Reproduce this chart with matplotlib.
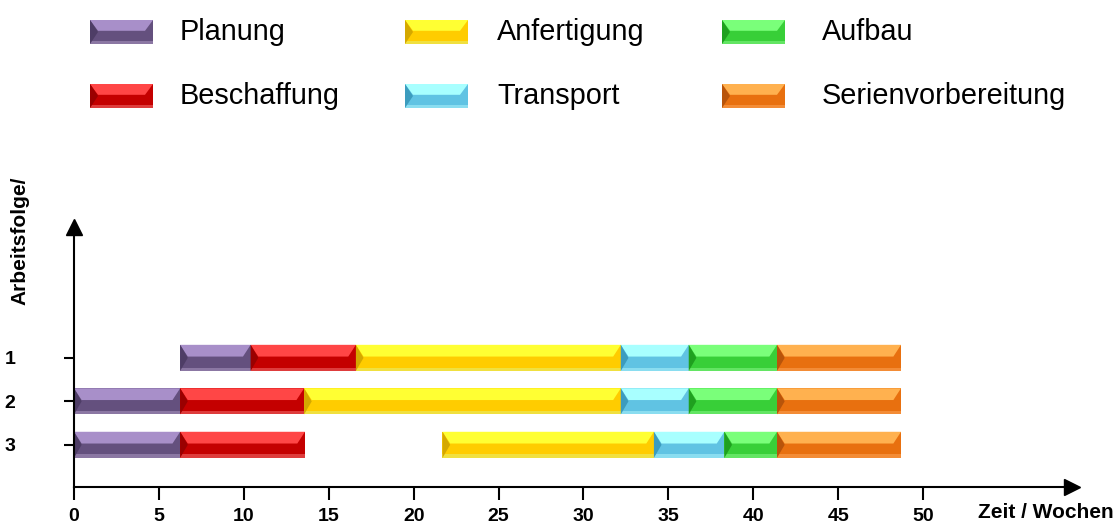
import numpy as np
import matplotlib
matplotlib.use("Agg")
import matplotlib.pyplot as plt
from matplotlib.patches import Polygon

plt.rcParams['font.family'] = ['Liberation Sans', 'DejaVu Sans']

# data
rows = [1, 2, 3]
row_labels = ['1', '2', '3']
phases = ['Planung', 'Beschaffung', 'Anfertigung', 'Transport', 'Aufbau', 'Serienvorbereitung']

# start / end (Wochen) per phase, one value per row 1..3
planung_start = [6.25, 0.0, 0.0]
planung_end = [10.4, 6.25, 6.25]
beschaffung_start = [10.4, 6.25, 6.25]
beschaffung_end = [16.6, 13.55, 13.6]
anfertigung_start = [16.6, 13.55, 21.7]
anfertigung_end = [32.2, 32.2, 34.15]
transport_start = [32.2, 32.2, 34.15]
transport_end = [36.2, 36.2, 38.3]
aufbau_start = [36.2, 36.2, 38.3]
aufbau_end = [41.4, 41.4, 41.4]
serien_start = [41.4, 41.4, 41.4]
serien_end = [48.7, 48.7, 48.7]

starts = [planung_start, beschaffung_start, anfertigung_start,
          transport_start, aufbau_start, serien_start]
ends = [planung_end, beschaffung_end, anfertigung_end,
        transport_end, aufbau_end, serien_end]

xticks = [0, 5, 10, 15, 20, 25, 30, 35, 40, 45, 50]

# light top, main, bottom strip, dark notch
colors = [
    ('#A88FC9', '#64507E', '#8B77A3', '#4E3D66'),
    ('#FF4646', '#C40000', '#DE3C3C', '#9A0000'),
    ('#FFFF33', '#FFCC00', '#F0E040', '#D4A800'),
    ('#A8FFFF', '#60C3E3', '#8ADDF0', '#3C9CBE'),
    ('#7AFF7A', '#38CF38', '#63E563', '#1FA01F'),
    ('#FFB14F', '#E8700F', '#F38C36', '#B8540A'),
]


def bevel(artist_add, x0, x1, t, b, col, d, transform):
    """beveled box, t = visual top value, b = visual bottom value"""
    light, main, bot, dark = col
    y = lambda f: t + (b - t) * f
    parts = [
        ([(x0, t), (x1, t), (x1, b), (x0, b)], main),
        ([(x0, t), (x1, t), (x1 - d, y(0.45)), (x0 + d, y(0.45))], light),
        ([(x0, y(0.87)), (x1, y(0.87)), (x1, b), (x0, b)], bot),
        ([(x0, t), (x0 + d, y(0.5)), (x0, b)], dark),
    ]
    for pts, c in parts:
        artist_add(Polygon(pts, closed=True, facecolor=c, edgecolor='none',
                           transform=transform))


fig = plt.figure(figsize=(11.19, 5.23), dpi=100)
ax = fig.add_axes([74 / 1119, 1 - 487 / 523, 998 / 1119, 260 / 523])

h = 0.6
for i, ph in enumerate(phases):
    # base bars via barh, bevel layers on top
    ax.barh(rows, np.array(ends[i]) - np.array(starts[i]), left=starts[i],
            height=h, color=colors[i][1], label=ph)
    for r, s, e in zip(rows, starts[i], ends[i]):
        bevel(ax.add_patch, s, e, r - h / 2, r + h / 2, colors[i], 0.45, ax.transData)

ax.set_xlim(0, 58.77)
ax.set_ylim(3.97, -2.01)
ax.set_xticks(xticks)
ax.set_xticklabels([str(v) for v in xticks], fontsize=14, fontweight='bold')
ax.set_yticks(rows)
ax.set_yticklabels(row_labels, fontsize=14, fontweight='bold')
ax.tick_params(axis='x', length=9, width=1.5, pad=6)
ax.tick_params(axis='y', length=7, width=1.5, pad=43)
for lab in ax.get_yticklabels():
    lab.set_horizontalalignment('left')

for s in ['top', 'right']:
    ax.spines[s].set_visible(False)
ax.spines['left'].set_linewidth(1.5)
ax.spines['bottom'].set_linewidth(1.5)
ax.plot(1, 0, '>', color='black', markersize=12, transform=ax.transAxes, clip_on=False)
ax.plot(0, 1, '^', color='black', markersize=12, transform=ax.transAxes, clip_on=False)

fig.text(20 / 1119, 1 - 241 / 523, 'Arbeitsfolge/', rotation=90, fontsize=15,
         fontweight='bold', ha='center', va='center')
fig.text(978 / 1119, 1 - 513 / 523, 'Zeit / Wochen', fontsize=15,
         fontweight='bold', ha='left', va='center')

# legend (3 columns, 2 rows, filled column-wise)
col_x = [90, 405, 722]
text_x = [180, 497, 822]
row_y = [32, 96]
W, H = 1119.0, 523.0
for i, ph in enumerate(phases):
    cx = col_x[i // 2]
    cy = row_y[i % 2]
    bevel(fig.add_artist, cx / W, (cx + 63) / W, 1 - (cy - 12) / H, 1 - (cy + 12) / H,
          colors[i], 8 / W, fig.transFigure)
    fig.text(text_x[i // 2] / W, 1 - cy / H, ph, fontsize=20.8, ha='left', va='center')

fig.savefig('out.png', dpi=100)
